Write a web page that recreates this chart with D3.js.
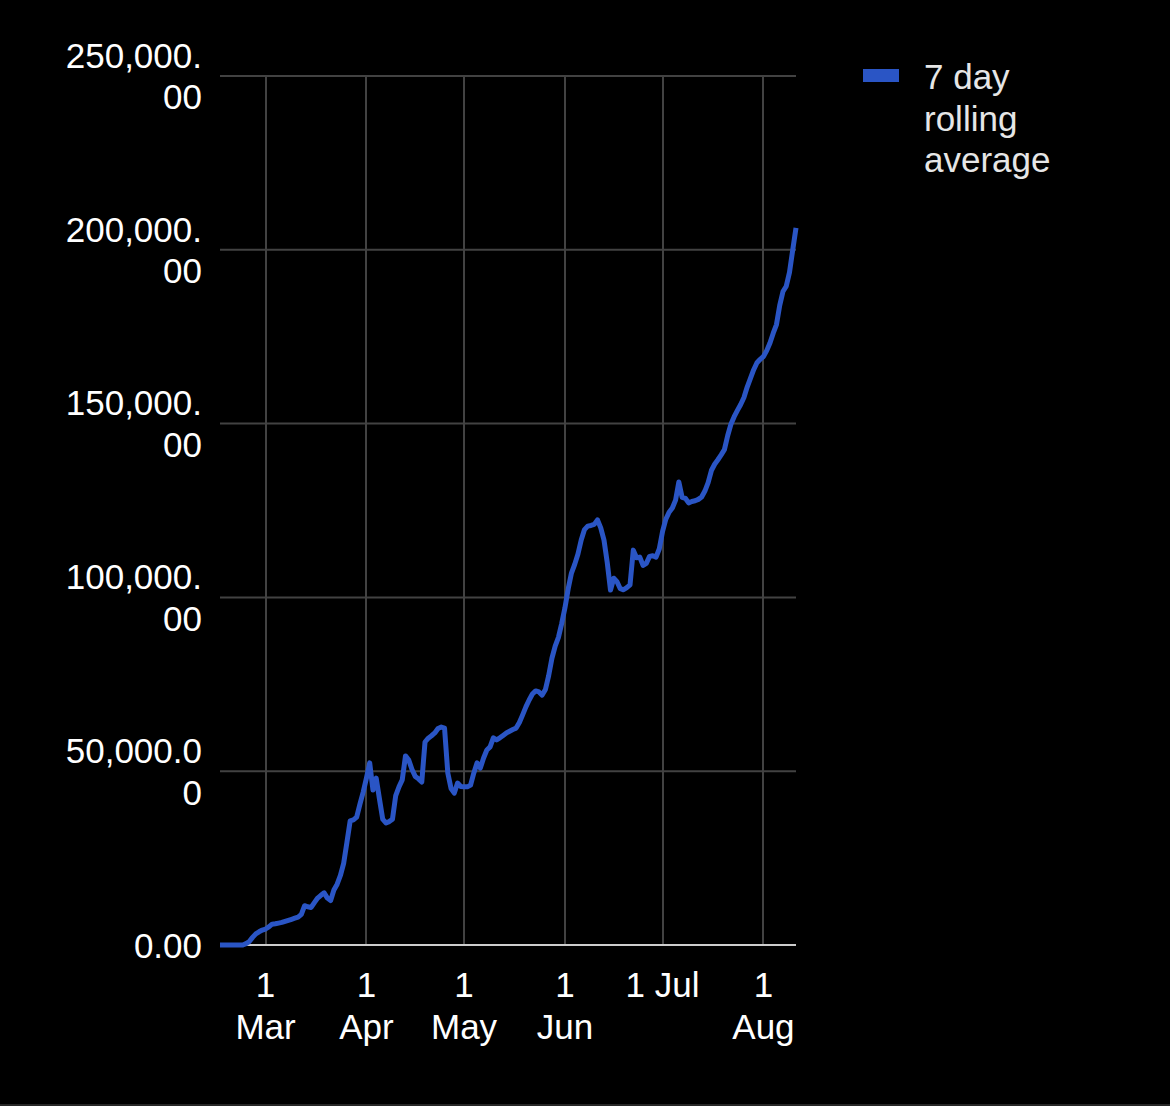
<!DOCTYPE html>
<html>
<head>
<meta charset="utf-8">
<script src="https://cdn.jsdelivr.net/npm/d3@7/dist/d3.min.js"></script>
<style>
  html, body { margin: 0; padding: 0; background: #000; }
  svg { display: block; }
  text { font-family: "Liberation Sans", Arial, Helvetica, sans-serif; }
</style>
</head>
<body>
<svg id="chart" width="1170" height="1106"></svg>
<script>
// ---- data ----
const startDate = "2020-02-16";
// 7 day rolling average, one value per day from startDate (thousands)
const rollingAvgK = [
  0, 0, 0, 0, 0, 0, 0, 0, 0.4, 1.0,
  2.2, 3.2, 3.8, 4.3, 4.6, 5.2, 6.0, 6.1, 6.3, 6.5,
  6.8, 7.1, 7.4, 7.7, 8.0, 8.8, 11.3, 11.0, 10.8, 12.2,
  13.5, 14.3, 15.0, 13.5, 12.8, 15.8, 17.5, 20.0, 23.5, 29.5,
  35.7, 36.0, 36.8, 40.5, 44.0, 48.0, 52.4, 44.6, 48.0, 42.0,
  36.2, 35.1, 35.5, 36.2, 43.0, 45.5, 47.5, 54.4, 53.2, 50.5,
  48.5, 47.8, 46.9, 58.4, 59.5, 60.2, 61.0, 62.3, 62.7, 62.4,
  49.5, 45.0, 43.7, 46.6, 45.6, 45.5, 45.5, 46.0, 49.5, 52.4,
  50.9, 53.8, 56.1, 57.0, 59.6, 59.0, 59.6, 60.3, 61.0, 61.5,
  62.0, 62.4, 64.0, 66.2, 68.5, 70.5, 72.2, 73.1, 72.8, 71.9,
  73.5, 77.5, 82.5, 86.0, 88.5, 92.5, 97.0, 102.5, 107.0, 109.5,
  112.5, 116.5, 119.5, 120.5, 120.7, 121.0, 122.3, 120.0, 116.5, 110.0,
  102.1, 105.5, 104.5, 102.5, 102.2, 102.8, 103.6, 113.6, 111.4, 111.6,
  109.2, 109.8, 111.8, 112.0, 111.6, 114.0, 119.0, 122.5, 124.5, 125.7,
  128.0, 133.2, 128.8, 128.5, 127.2, 127.6, 127.8, 128.2, 128.9, 130.6,
  133.0, 136.5, 138.3, 139.6, 141.0, 142.5, 146.5, 149.8, 152.0, 153.8,
  155.5, 157.5, 160.5, 163.0, 165.5, 167.5, 168.5, 169.3, 171.0, 173.2,
  176.0, 178.5, 184.0, 188.0, 189.5, 193.5, 200.0, 206.3
];
const seriesName = ["7 day", "rolling", "average"];
const yTickValues = [0, 50000, 100000, 150000, 200000, 250000];
const yTickLabels = [["0.00"], ["50,000.0", "0"], ["100,000.", "00"], ["150,000.", "00"], ["200,000.", "00"], ["250,000.", "00"]];
const xTickDates = ["2020-03-01", "2020-04-01", "2020-05-01", "2020-06-01", "2020-07-01", "2020-08-01"];
const xTickLabels = [["1", "Mar"], ["1", "Apr"], ["1", "May"], ["1", "Jun"], ["1 Jul"], ["1", "Aug"]];

// ---- build ----
const parse = d3.utcParse("%Y-%m-%d");
const t0 = parse(startDate);
const series = rollingAvgK.map((v, i) => ({ date: d3.utcDay.offset(t0, i), value: v * 1000 }));

const svg = d3.select("#chart");
const W = 1170, H = 1106;
svg.append("rect").attr("width", W).attr("height", H).attr("fill", "#000");
svg.append("rect").attr("x", 0).attr("y", H - 2).attr("width", W).attr("height", 2).attr("fill", "#262626");

const plot = { left: 220, right: 796, top: 76, bottom: 945 };

const x = d3.scaleUtc()
  .domain([series[0].date, series[series.length - 1].date])
  .range([plot.left, plot.right]);
const y = d3.scaleLinear()
  .domain([0, 250000])
  .range([plot.bottom, plot.top]);

const fontSize = 35;
const lineGap = 41.5;

// horizontal gridlines
svg.append("g").selectAll("line")
  .data(yTickValues.filter(v => v !== 0))
  .join("line")
  .attr("x1", plot.left).attr("x2", plot.right)
  .attr("y1", d => y(d)).attr("y2", d => y(d))
  .attr("stroke", "#424242").attr("stroke-width", 2);

// vertical gridlines
const xTicks = xTickDates.map(parse);
svg.append("g").selectAll("line")
  .data(xTicks)
  .join("line")
  .attr("x1", d => Math.round(x(d))).attr("x2", d => Math.round(x(d)))
  .attr("y1", plot.top).attr("y2", plot.bottom)
  .attr("stroke", "#424242").attr("stroke-width", 2);

// baseline
svg.append("line")
  .attr("x1", plot.left).attr("x2", plot.right)
  .attr("y1", y(0)).attr("y2", y(0))
  .attr("stroke", "#cccccc").attr("stroke-width", 2);

// y labels
const yl = svg.append("g").attr("fill", "#ffffff").attr("font-size", fontSize).attr("text-anchor", "end");
yTickValues.forEach((v, i) => {
  const lines = yTickLabels[i];
  const total = (lines.length - 1) * lineGap;
  const first = y(v) - total / 2 + fontSize * 0.36;
  const t = yl.append("text").attr("x", 202);
  lines.forEach((s, j) => {
    t.append("tspan").attr("x", 202).attr("y", first + j * lineGap).text(s);
  });
});

// x labels
const xl = svg.append("g").attr("fill", "#ffffff").attr("font-size", fontSize).attr("text-anchor", "middle");
xTicks.forEach((d, i) => {
  const t = xl.append("text");
  xTickLabels[i].forEach((s, j) => {
    t.append("tspan").attr("x", x(d)).attr("y", 997 + j * 42).text(s);
  });
});

// line
const line = d3.line()
  .x(d => x(d.date))
  .y(d => y(d.value));
svg.append("path")
  .datum(series)
  .attr("fill", "none")
  .attr("stroke", "#2a55c5")
  .attr("stroke-width", 5)
  .attr("stroke-linejoin", "round")
  .attr("d", line);

// legend
svg.append("rect").attr("x", 863).attr("y", 69).attr("width", 36).attr("height", 13).attr("fill", "#2a55c5");
const lg = svg.append("text").attr("fill", "#e6e6e6").attr("font-size", fontSize);
seriesName.forEach((s, j) => {
  lg.append("tspan").attr("x", 924).attr("y", 89 + j * lineGap).text(s);
});
</script>
</body>
</html>
